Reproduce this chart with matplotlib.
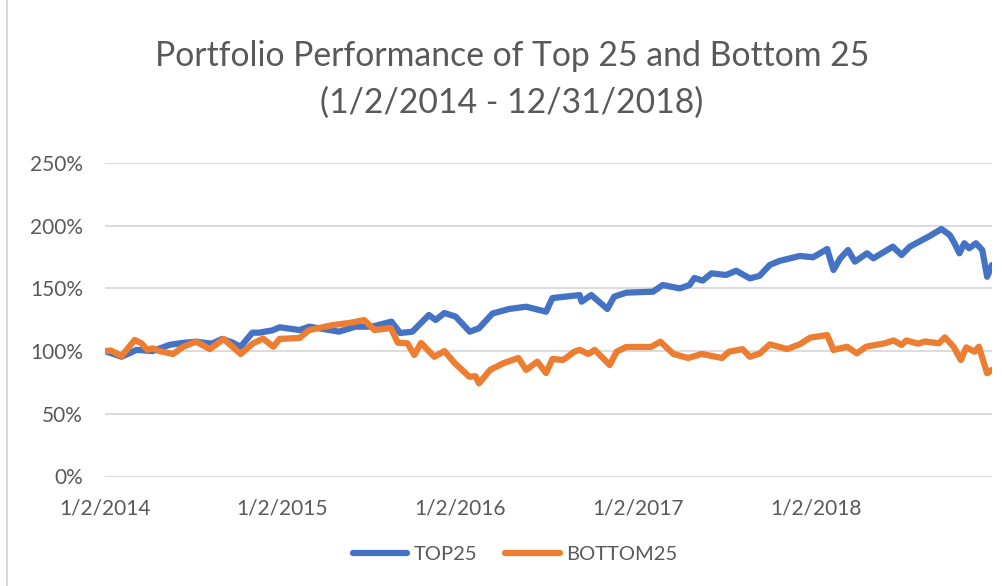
import matplotlib
matplotlib.use("Agg")
import matplotlib.pyplot as plt
import matplotlib.dates as mdates
from matplotlib.ticker import FuncFormatter
import pandas as pd

# Values (portfolio value, % of start)
top_dates = [
    "2014-01-02", "2014-02-05", "2014-03-08", "2014-04-10", "2014-05-15", "2014-06-10",
    "2014-07-08", "2014-07-28", "2014-08-10", "2014-08-31", "2014-09-20", "2014-10-08",
    "2014-11-01", "2014-11-15", "2014-12-12", "2014-12-27", "2015-02-06", "2015-02-26",
    "2015-04-28", "2015-06-01", "2015-07-05", "2015-08-14", "2015-09-01", "2015-09-26",
    "2015-10-30", "2015-11-13", "2015-12-01", "2015-12-24", "2016-01-22", "2016-02-10",
    "2016-03-09", "2016-04-12", "2016-05-17", "2016-06-27", "2016-07-10", "2016-09-04",
    "2016-09-08", "2016-09-28", "2016-10-31", "2016-11-14", "2016-12-09", "2017-02-02",
    "2017-02-22", "2017-03-29", "2017-04-18", "2017-04-28", "2017-05-15", "2017-06-02",
    "2017-07-02", "2017-07-23", "2017-08-20", "2017-09-09", "2017-09-30", "2017-10-20",
    "2017-12-01", "2017-12-28", "2018-01-26", "2018-02-08", "2018-02-22", "2018-03-10",
    "2018-03-24", "2018-04-18", "2018-05-01", "2018-06-10", "2018-06-28", "2018-07-15",
    "2018-08-25", "2018-09-18", "2018-10-05", "2018-10-15", "2018-10-25", "2018-11-04",
    "2018-11-14", "2018-11-28", "2018-12-11", "2018-12-21", "2018-12-31",
]
top25 = [
    100, 95.5, 101, 100, 105, 106.5,
    107.5, 106.5, 106, 109.7, 107, 103.5,
    114.7, 114.7, 116.5, 119, 116.8, 119.5,
    115.5, 119.5, 119.5, 123.5, 114.4, 115.5,
    128.8, 124.8, 130.4, 127.5, 115.5, 118.2,
    130, 133.6, 135.4, 131.4, 142.3, 144.7,
    139.4, 144.7, 133.6, 143.4, 146.6, 147.4,
    152.7, 150, 152.7, 158.3, 156.2, 162,
    160.7, 164.1, 158, 160, 168.7, 171.9,
    175.9, 174.8, 181.4, 164.7, 174, 180.6,
    171.3, 178, 174, 183.3, 176.6, 183.3,
    191.8, 197.4, 192.6, 186, 178, 186,
    182, 186, 180.6, 159.3, 168.7,
]

bottom_dates = [
    "2014-01-02", "2014-01-14", "2014-02-05", "2014-03-04", "2014-03-18", "2014-03-30",
    "2014-04-10", "2014-04-24", "2014-05-22", "2014-06-12", "2014-07-08", "2014-08-06",
    "2014-09-03", "2014-10-08", "2014-11-02", "2014-11-23", "2014-12-14", "2014-12-27",
    "2015-02-06", "2015-02-26", "2015-04-16", "2015-05-22", "2015-06-19", "2015-07-10",
    "2015-08-13", "2015-08-27", "2015-09-16", "2015-09-30", "2015-10-14", "2015-11-10",
    "2015-12-01", "2015-12-22", "2016-01-21", "2016-02-03", "2016-02-10", "2016-03-04",
    "2016-03-31", "2016-05-01", "2016-05-17", "2016-06-09", "2016-06-27", "2016-07-10",
    "2016-08-01", "2016-08-24", "2016-09-04", "2016-09-22", "2016-10-05", "2016-11-05",
    "2016-11-19", "2016-12-09", "2017-01-29", "2017-02-17", "2017-03-16", "2017-04-15",
    "2017-05-13", "2017-06-24", "2017-07-08", "2017-08-05", "2017-08-20", "2017-09-09",
    "2017-09-30", "2017-11-05", "2017-12-01", "2017-12-22", "2018-01-26", "2018-02-08",
    "2018-03-08", "2018-03-28", "2018-04-16", "2018-05-24", "2018-06-12", "2018-06-28",
    "2018-07-08", "2018-08-01", "2018-08-15", "2018-09-13", "2018-09-25", "2018-10-13",
    "2018-10-28", "2018-11-08", "2018-11-25", "2018-12-04", "2018-12-21", "2018-12-31",
]
bottom25 = [
    100, 100.5, 96, 108.9, 106.2, 101,
    102.2, 100, 97.7, 103.5, 107.5, 101.6,
    109.7, 97.7, 106, 110, 103.5, 109.7,
    110.5, 116.8, 120.8, 122.6, 124.8, 116.8,
    118.4, 106.7, 106.2, 96.9, 106.5, 95.5,
    100, 90.5, 79.6, 80, 74.3, 85,
    90.3, 94.5, 85, 91.6, 82.5, 93.7,
    92.9, 99.5, 101, 97.7, 101, 88.9,
    99.5, 103.3, 103.3, 107.5, 97.7, 94.5,
    97.7, 94.5, 99.5, 101.6, 95.5, 98,
    105.4, 101.6, 105.5, 110.7, 112.8, 100.9,
    103.5, 98.2, 103.5, 106.2, 108.5, 104.9,
    108.5, 105.9, 107.7, 106.2, 111, 103.5,
    92.9, 103, 99.5, 103.5, 82.3, 85,
]

tick_dates = ["2014-01-02", "2015-01-02", "2016-01-02", "2017-01-02", "2018-01-02"]

TEXT = "#595959"
plt.rcParams['font.family'] = ['Lato', 'DejaVu Sans']

fig = plt.figure(figsize=(10.03, 5.86), dpi=100)
ax = fig.add_axes([105 / 1003, 1 - 476.5 / 586, 887 / 1003, 313.5 / 586])

ax.plot(pd.to_datetime(top_dates), top25, color="#4472C4", lw=4.5,
        solid_joinstyle="round", solid_capstyle="round", label="TOP25")
ax.plot(pd.to_datetime(bottom_dates), bottom25, color="#ED7D31", lw=4.5,
        solid_joinstyle="round", solid_capstyle="round", label="BOTTOM25")

ax.set_xlim(pd.Timestamp("2014-01-02"), pd.Timestamp("2018-12-31"))
ax.set_ylim(0, 250)
ax.set_yticks(range(0, 251, 50))
ax.yaxis.set_major_formatter(FuncFormatter(lambda v, p: f"{int(v)}%"))
ax.set_xticks(pd.to_datetime(tick_dates))
ax.xaxis.set_major_formatter(FuncFormatter(
    lambda v, p: f"{mdates.num2date(v).month}/{mdates.num2date(v).day}/{mdates.num2date(v).year}"))

ax.grid(axis="y", color="#d9d9d9", lw=1.3)
ax.set_axisbelow(True)
for s in ax.spines.values():
    s.set_visible(False)
ax.tick_params(length=0, colors=TEXT, labelsize=15)
ax.tick_params(axis="y", pad=16)
ax.tick_params(axis="x", pad=16)

fig.text(0.5105, 1 - 66 / 586, "Portfolio Performance of Top 25 and Bottom 25",
         ha="center", va="baseline", fontsize=24.3, color=TEXT)
fig.text(0.5105, 1 - 113 / 586, "(1/2/2014 - 12/31/2018)",
         ha="center", va="baseline", fontsize=24.3, color=TEXT)

fig.legend(loc="center", bbox_to_anchor=(515 / 1003, 1 - 554 / 586), ncol=2,
           frameon=False, fontsize=14.5, handlelength=2.7, handletextpad=0.3,
           columnspacing=1.4, labelcolor=TEXT)

# chart area border (left edge visible in the reference)
fig.add_artist(plt.Line2D([0.007, 0.007], [0, 1], color="#d9d9d9", lw=1.5,
                          transform=fig.transFigure))

fig.savefig("out.png", dpi=100)
